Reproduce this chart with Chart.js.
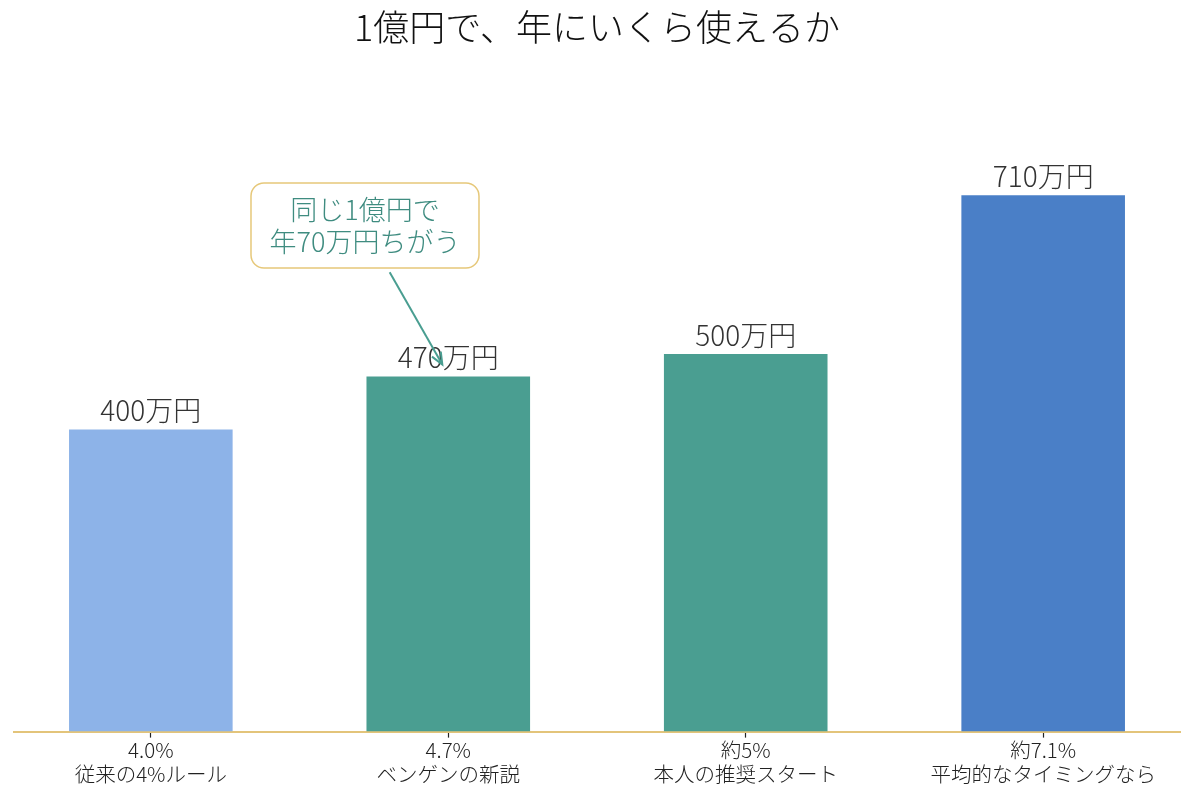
<!DOCTYPE html>
<html><head><meta charset="utf-8">
<script src="https://cdn.jsdelivr.net/npm/chart.js@4"></script>
<style>html,body{margin:0;padding:0;background:#fff}#wrap{width:1200px;height:800px}</style>
</head><body><div id="wrap"><canvas id="c"></canvas></div>
<script>
const FONT = '"Noto Sans CJK JP", "Noto Sans", sans-serif';
const titleText = '1億円で、年にいくら使えるか';
const rates = ['4.0%', '4.7%', '約5%', '約7.1%'];
const names = ['従来の4%ルール', 'ベンゲンの新説', '本人の推奨スタート', '平均的なタイミングなら'];
const values = [400, 470, 500, 710];
const unit = '万円';
const barColors = ['#8DB3E8', '#4A9E91', '#4A9E91', '#4A7FC7'];
const noteLines = ['同じ1億円で', '年70万円ちがう'];

const points = values.map((v, i) => ({x: i, y: v}));

const overlay = {
  id: 'overlay',
  afterDatasetsDraw(chart) {
    const ctx = chart.ctx;
    const xs = chart.scales.x, ys = chart.scales.y;
    ctx.save();
    // value labels
    ctx.font = '300 28px ' + FONT;
    ctx.fillStyle = '#333';
    ctx.textAlign = 'center';
    ctx.textBaseline = 'bottom';
    values.forEach((v, i) => {
      ctx.fillText(v + unit, xs.getPixelForValue(i), ys.getPixelForValue(v) - 5);
    });
    // annotation box
    const bx = xs.getPixelForValue(0.72), by = ys.getPixelForValue(670);
    const w = 228, h = 85, r = 13;
    ctx.beginPath();
    ctx.roundRect(bx - w / 2, by - h / 2, w, h, r);
    ctx.fillStyle = '#fff';
    ctx.fill();
    ctx.lineWidth = 1.5;
    ctx.strokeStyle = '#E6C87A';
    ctx.stroke();
    ctx.fillStyle = '#3F8C80';
    ctx.font = '300 27px ' + FONT;
    ctx.textBaseline = 'middle';
    ctx.fillText(noteLines[0], bx, by - 16);
    ctx.fillText(noteLines[1], bx, by + 16);
    // arrow
    const x1 = xs.getPixelForValue(0.803), y1 = ys.getPixelForValue(608);
    const x2 = xs.getPixelForValue(0.98), y2 = ys.getPixelForValue(486);
    ctx.strokeStyle = '#4A9E91';
    ctx.lineWidth = 2;
    ctx.beginPath();
    ctx.moveTo(x1, y1); ctx.lineTo(x2, y2); ctx.stroke();
    const ang = Math.atan2(y2 - y1, x2 - x1);
    const L = 13, a = 0.4;
    ctx.beginPath();
    ctx.moveTo(x2 - L * Math.cos(ang - a), y2 - L * Math.sin(ang - a));
    ctx.lineTo(x2, y2);
    ctx.lineTo(x2 - L * Math.cos(ang + a), y2 - L * Math.sin(ang + a));
    ctx.stroke();
    ctx.restore();
  }
};

new Chart(document.getElementById('c'), {
  type: 'bar',
  data: {
    datasets: [{
      data: points,
      backgroundColor: barColors,
      borderWidth: 0,
      barPercentage: 0.55,
      categoryPercentage: 1.0
    }]
  },
  options: {
    responsive: true,
    maintainAspectRatio: false,
    animation: false,
    layout: {padding: {left: 14, right: 20, top: 0, bottom: 14}},
    plugins: {
      legend: {display: false},
      tooltip: {enabled: false},
      title: {
        display: true,
        text: titleText,
        color: '#111',
        font: {family: FONT, size: 36, weight: 300},
        padding: {top: 6, bottom: 12}
      }
    },
    scales: {
      x: {
        type: 'linear',
        offset: false,
        min: -0.46, max: 3.46,
        afterBuildTicks(s) { s.ticks = values.map((_, i) => ({value: i})); },
        ticks: {
          callback: (v) => [rates[v], names[v]],
          color: '#222',
          padding: 0,
          maxRotation: 0,
          autoSkip: false,
          font: {family: FONT, size: 20.5, weight: 300, lineHeight: 1.18}
        },
        grid: {offset: false, drawOnChartArea: false, drawTicks: true, tickLength: 6, color: '#222', tickWidth: 1.2},
        border: {display: true, color: '#E3C47A', width: 2}
      },
      y: {
        display: false,
        min: 0, max: 887.5
      }
    }
  },
  plugins: [overlay]
});
</script></body></html>
